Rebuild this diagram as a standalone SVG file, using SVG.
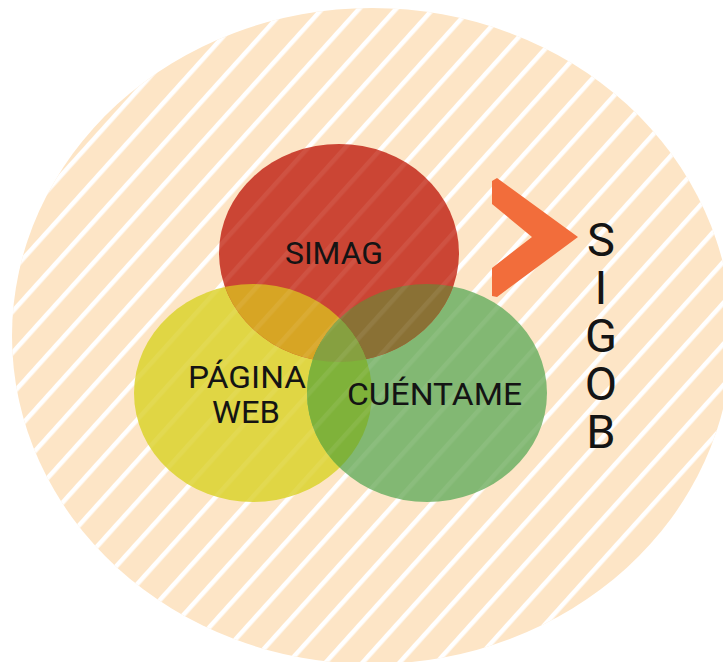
<svg xmlns="http://www.w3.org/2000/svg" width="723" height="662" viewBox="0 0 723 662">
  <style>
    .lbl { font-family: Roboto, "Liberation Sans", sans-serif; font-size: 32px; fill: #141414; text-anchor: middle; }
    .sig { font-family: Roboto, "Liberation Sans", sans-serif; font-size: 47px; fill: #141414; writing-mode: vertical-rl; text-orientation: upright; letter-spacing: -7px; }
  </style>
  <defs>
    <pattern id="stripes" patternUnits="userSpaceOnUse" width="27.5" height="20" patternTransform="translate(-6 0) rotate(42)">
      <rect x="0" y="0" width="4.5" height="20" fill="#ffffff"/>
    </pattern>
    <clipPath id="cpBig"><ellipse cx="372" cy="336" rx="360" ry="328"/></clipPath>
    <clipPath id="cpRed"><ellipse cx="339" cy="253" rx="120" ry="109"/></clipPath>
    <clipPath id="cpYellow"><ellipse cx="253" cy="393" rx="119" ry="109"/></clipPath>
  </defs>

  <g id="background">
    <ellipse cx="372" cy="336" rx="360" ry="328" fill="#fde5c6"/>
    <rect x="0" y="0" width="723" height="662" fill="url(#stripes)" clip-path="url(#cpBig)"/>
  </g>

  <g id="pagina-web">
    <ellipse cx="253" cy="393" rx="119" ry="109" fill="#e0d644"/>
  </g>
  <g id="cuentame">
    <ellipse cx="427" cy="393" rx="120" ry="109" fill="#82b873"/>
  </g>
  <g id="simag">
    <ellipse cx="339" cy="253" rx="120" ry="109" fill="#cb4534"/>
  </g>
  <g id="overlaps">
    <ellipse cx="253" cy="393" rx="119" ry="109" fill="#d7a524" clip-path="url(#cpRed)"/>
    <ellipse cx="427" cy="393" rx="120" ry="109" fill="#8a7135" clip-path="url(#cpRed)"/>
    <ellipse cx="427" cy="393" rx="120" ry="109" fill="#7fb23a" clip-path="url(#cpYellow)"/>
    <g clip-path="url(#cpRed)">
      <ellipse cx="427" cy="393" rx="120" ry="109" fill="#86a040" clip-path="url(#cpYellow)"/>
    </g>
  </g>
  <rect x="0" y="0" width="723" height="662" fill="url(#stripes)" clip-path="url(#cpBig)" opacity="0.07"/>

  <g id="chevron">
    <path d="M492,181 L497,178 L578,237 L497,297 L492,296 L492,268 L532,237 L492,204 Z" fill="#f26d3b"/>
  </g>

  <g id="labels">
    <text class="lbl" x="334" y="264" textLength="98" lengthAdjust="spacingAndGlyphs">SIMAG</text>
    <text class="lbl" x="247" y="388" textLength="118" lengthAdjust="spacingAndGlyphs">PÁGINA</text>
    <text class="lbl" x="246" y="423" textLength="68" lengthAdjust="spacingAndGlyphs">WEB</text>
    <text class="lbl" x="434.5" y="405" textLength="175" lengthAdjust="spacingAndGlyphs">CUÉNTAME</text>
  </g>

  <g id="sigob">
    <text class="sig" x="601" y="212">SIGOB</text>
  </g>
</svg>
